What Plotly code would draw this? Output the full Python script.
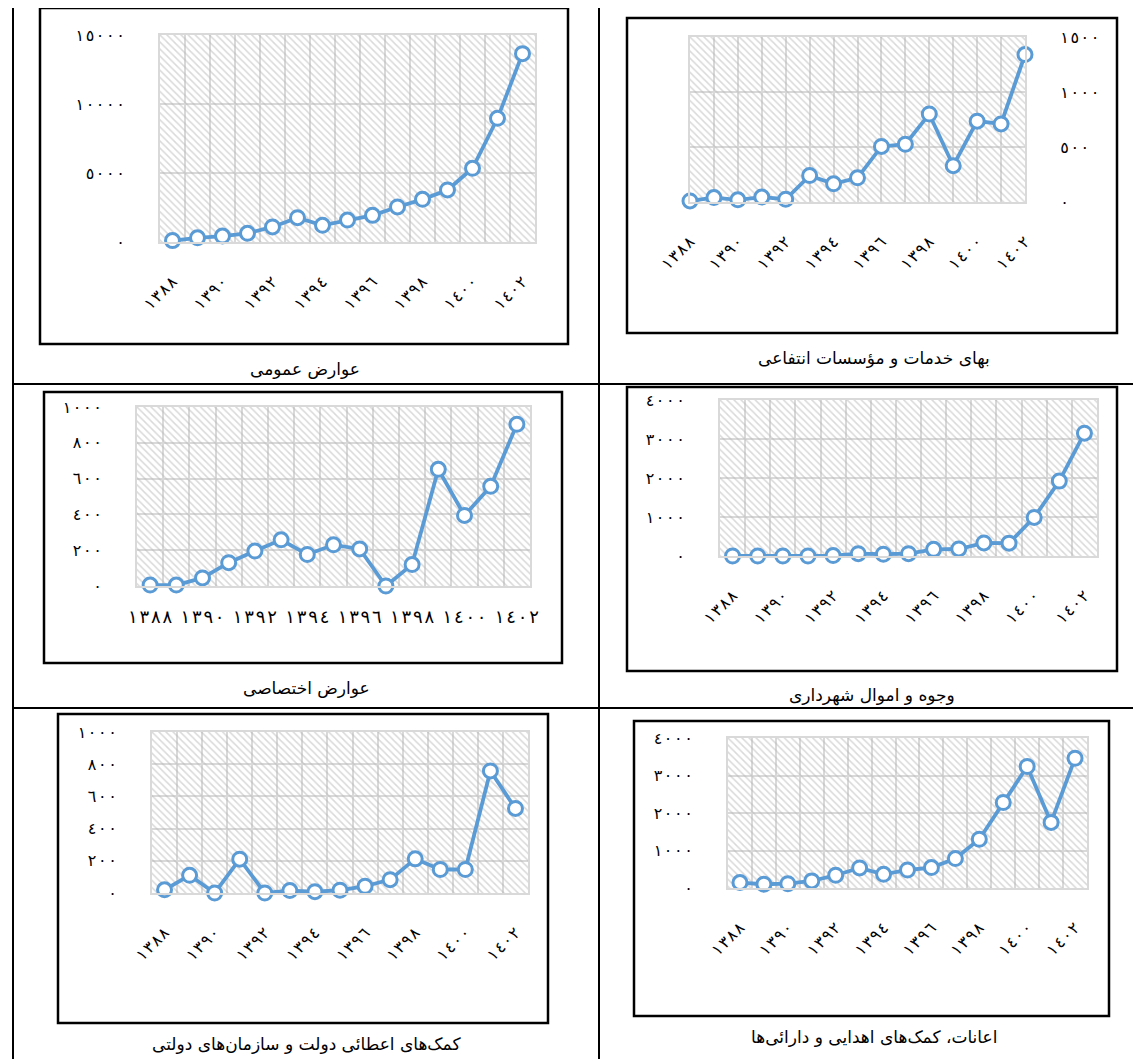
import plotly.graph_objects as go

# ---------------- data ----------------
years = ["1388", "1389", "1390", "1391", "1392", "1393", "1394", "1395",
         "1396", "1397", "1398", "1399", "1400", "1401", "1402"]

general_fees = [100, 300, 430, 630, 1090, 1760, 1210, 1590, 1930, 2540, 3090, 3770, 5340, 8960, 13650]
service_fees = [10, 40, 20, 45, 25, 240, 165, 220, 505, 525, 800, 330, 735, 710, 1340]
special_fees = [5, 5, 45, 130, 195, 258, 176, 230, 207, 0, 120, 652, 394, 557, 903]
municipal_assets = [0, 0, 0, 0, 10, 60, 45, 60, 170, 180, 335, 330, 990, 1920, 3150]
gov_grants = [20, 110, 0, 210, 0, 15, 8, 17, 42, 83, 212, 146, 146, 758, 525]
donations = [145, 100, 115, 190, 340, 535, 365, 480, 545, 785, 1300, 2280, 3240, 1750, 3460]

ticks_15000 = [0, 5000, 10000, 15000]
ticks_1500 = [0, 500, 1000, 1500]
ticks_1000 = [0, 200, 400, 600, 800, 1000]
ticks_4000 = [0, 1000, 2000, 3000, 4000]

captions = ["عوارض عمومی", "بهای خدمات و مؤسسات انتفاعی", "عوارض اختصاصی",
            "وجوه و اموال شهرداری", "کمک‌های اعطائی دولت و سازمان‌های دولتی",
            "اعانات، کمک‌های اهدایی و دارائی‌ها"]

# ---------------- helpers ----------------
OFF = 8                     # page body margin
W, H = 1141 - OFF, 1059 - OFF
AR = str.maketrans("0123456789", "٠١٢٣٤٥٦٧٨٩")
SEP = "\u200a\u200e"        # hair space + LRM: wide digit spacing, keeps LTR order


def ar(v):
    return SEP.join(str(v).translate(AR))


def px(x):
    return (x - OFF) / W


def py(y):
    return 1 - (y - OFF) / H


BLUE = "#5B9BD5"
GRID = "#d9d9d9"
FONT = "DejaVu Sans"

panels = [
    dict(vals=general_fees, yt=ticks_15000, box=(160, 35, 535, 242), frame=(40, 8, 568, 344),
         cap=(305, 369), side="left", edge=False, angle=-45, cap_i=0),
    dict(vals=service_fees, yt=ticks_1500, box=(690, 37, 1025, 202), frame=(627, 18, 1117, 333),
         cap=(874, 358), side="right", edge=True, angle=-45, cap_i=1),
    dict(vals=special_fees, yt=ticks_1000, box=(137, 407, 530, 586), frame=(44, 392, 562, 663),
         cap=(306, 688), side="left", edge=False, angle=0, cap_i=2),
    dict(vals=municipal_assets, yt=ticks_4000, box=(720, 400, 1097, 556), frame=(627, 387, 1117, 671),
         cap=(872, 695), side="left", edge=False, angle=-45, cap_i=3),
    dict(vals=gov_grants, yt=ticks_1000, box=(152, 732, 528, 893), frame=(58, 714, 548, 1023),
         cap=(306, 1044), side="left", edge=False, angle=-45, cap_i=4),
    dict(vals=donations, yt=ticks_4000, box=(728, 738, 1087, 888), frame=(634, 721, 1109, 1016),
         cap=(874, 1037), side="left", edge=False, angle=-45, cap_i=5),
]

fig = go.Figure()
shapes = []
annotations = []
layout_axes = {}

n = len(years)
xpos = list(range(n))
tick_idx = list(range(0, n, 2))

for i, p in enumerate(panels):
    k = "" if i == 0 else str(i + 1)
    xa, ya = "x" + k, "y" + k
    x0, y0, x1, y1 = p["box"]
    if p["edge"]:
        xr = [0, n - 1]
        mtick0 = 0
    else:
        xr = [-0.5, n - 0.5]
        mtick0 = -0.5
    ymax = p["yt"][-1]

    # hatched background of the plot area (decoration, from the axis ranges)
    fig.add_trace(go.Scatter(
        x=[xr[0], xr[1], xr[1], xr[0], xr[0]], y=[0, 0, ymax, ymax, 0],
        xaxis=xa, yaxis=ya, mode="lines", line=dict(width=0),
        fill="toself", fillcolor="rgba(0,0,0,0)",
        fillpattern=dict(shape="\\", fgcolor="#b4b4b4", bgcolor="rgba(0,0,0,0)",
                         size=5, solidity=0.3, fillmode="overlay"),
        hoverinfo="skip", showlegend=False))

    fig.add_trace(go.Scatter(
        x=xpos, y=p["vals"], xaxis=xa, yaxis=ya, mode="lines+markers",
        line=dict(color=BLUE, width=3.8),
        marker=dict(symbol="circle", size=14, color="white",
                    line=dict(color=BLUE, width=3)),
        cliponaxis=False, showlegend=False,
        text=years, hovertemplate="%{text}: %{y}<extra></extra>"))

    xkey = "xaxis" + k
    ykey = "yaxis" + k
    flat = p["angle"] == 0
    layout_axes[xkey] = dict(
        domain=[px(x0), px(x1)], anchor=ya, range=xr, automargin=False,
        tickmode="array", tickvals=[xpos[j] for j in tick_idx],
        ticktext=[ar(years[j]) for j in tick_idx],
        tickangle=p["angle"], showgrid=False, zeroline=False,
        showline=True, linecolor=GRID, linewidth=2, mirror=True,
        ticks="", ticklabelstandoff=(13 if flat else 22),
        tickfont=dict(family=FONT, size=(18 if flat else 16), color="black"),
        minor=dict(tickmode="linear", tick0=mtick0, dtick=1, showgrid=True,
                   gridcolor=GRID, gridwidth=2, ticks=""),
        fixedrange=True)
    layout_axes[ykey] = dict(
        domain=[py(y1), py(y0)], anchor=xa, range=[0, ymax], side=p["side"],
        automargin=False,
        tickmode="array", tickvals=p["yt"], ticktext=[ar(v) for v in p["yt"]],
        showgrid=True, gridcolor=GRID, gridwidth=2, zeroline=False,
        showline=True, linecolor=GRID, linewidth=2, mirror=True,
        ticks="", ticklabelstandoff=30,
        tickfont=dict(family=FONT, size=16, color="black"),
        fixedrange=True)

    fx0, fy0, fx1, fy1 = p["frame"]
    shapes.append(dict(type="rect", xref="paper", yref="paper",
                       x0=px(fx0), x1=px(fx1), y0=py(fy1), y1=py(fy0),
                       line=dict(color="black", width=2.5)))
    cx, cy = p["cap"]
    annotations.append(dict(xref="paper", yref="paper", x=px(cx), y=py(cy),
                            text=captions[p["cap_i"]], showarrow=False,
                            xanchor="center", yanchor="middle",
                            font=dict(family=FONT, size=17, color="black")))

# table lines
table_lines = [
    (13, 7, 13, 1059), (599, 7, 599, 1059),
    (13, 7, 1141, 7), (13, 384, 1141, 384), (13, 708, 1141, 708),
]
for (a, b, c, d) in table_lines:
    shapes.append(dict(type="line", xref="paper", yref="paper",
                       x0=px(a), y0=py(b), x1=px(c), y1=py(d),
                       line=dict(color="black", width=2)))

fig.update_layout(
    width=W, height=H, margin=dict(l=0, r=0, t=0, b=0, autoexpand=False),
    paper_bgcolor="white", plot_bgcolor="white",
    shapes=shapes, annotations=annotations, showlegend=False,
    **layout_axes)

fig.write_html("out.html")
